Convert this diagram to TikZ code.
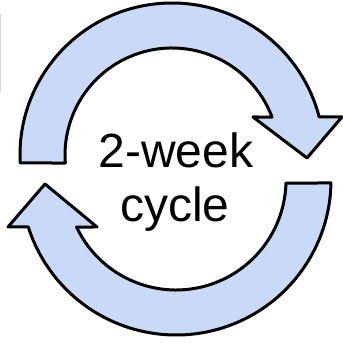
\documentclass[tikz,border=0pt]{standalone}
\usepackage{fontspec}
\setmainfont{Liberation Sans}
\begin{document}
\begin{tikzpicture}[x=1pt,y=1pt,
  arrowshape/.style={draw=black,fill=arrowblue,line width=3pt,line join=round},
  cycletext/.style={font=\fontsize{48}{56}\selectfont,anchor=base,inner sep=0pt}]
\definecolor{arrowblue}{HTML}{C9DAF8}
\useasboundingbox (0,0) rectangle (343,343);
% faint frame edge at left
\draw[line width=1pt,color=black!15] (0.5,251) -- (0.5,329);
% top arrow (centre 172,188)
\draw[arrowshape] ([shift={(183:152)}]172,188)
  arc[start angle=183,end angle=14.5,radius=152]
  -- (342,226) -- (307,185) -- (253,226)
  -- ([shift={(20.8:107)}]172,188)
  arc[start angle=20.8,end angle=184.3,radius=107] -- cycle;
% bottom arrow (centre 176,163)
\draw[arrowshape] ([shift={(-1.1:155)}]176,163)
  arc[start angle=-1.1,end angle=-162.35,radius=155]
  -- (8,116) -- (45,159) -- (97,116)
  -- ([shift={(-154.7:110)}]176,163)
  arc[start angle=-154.7,end angle=-1.6,radius=110] -- cycle;
\node[cycletext] (l1) at (176,175) {2-week};
\node[cycletext] (l2) at (175,121) {cycle};
\end{tikzpicture}
\end{document}
